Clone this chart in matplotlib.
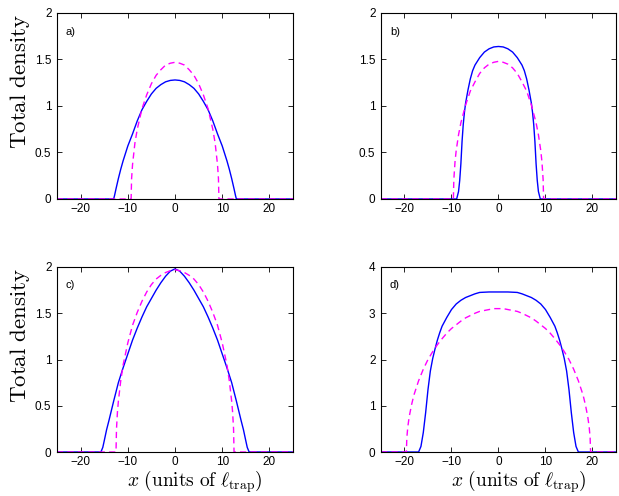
import matplotlib
matplotlib.use("Agg")
import matplotlib.pyplot as plt

# ---- panel a) ----
xa_n = [-25, -13.0, -12.8, -12.5, -12, -11.5, -11, -10, -9, -8, -7, -6, -5, -4, -3, -2, -1, 0,
        1, 2, 3, 4, 5, 6, 7, 8, 9, 10, 11, 11.5, 12, 12.5, 12.8, 13.0, 25]
na = [0, 0, 0.04, 0.11, 0.22, 0.32, 0.41, 0.57, 0.70, 0.84, 0.96, 1.05, 1.13, 1.19, 1.23, 1.26, 1.275, 1.28,
      1.275, 1.26, 1.23, 1.19, 1.13, 1.05, 0.96, 0.84, 0.70, 0.57, 0.41, 0.32, 0.22, 0.11, 0.04, 0, 0]
xa_tf = [-25, -9.3, -9.2, -9.0, -8.5, -8, -7, -6, -5, -4, -3, -2, -1, 0,
         1, 2, 3, 4, 5, 6, 7, 8, 8.5, 9.0, 9.2, 9.3, 25]
tfa = [0, 0, 0.22, 0.37, 0.60, 0.75, 0.97, 1.12, 1.24, 1.33, 1.39, 1.44, 1.46, 1.47,
       1.46, 1.44, 1.39, 1.33, 1.24, 1.12, 0.97, 0.75, 0.60, 0.37, 0.22, 0, 0]

# ---- panel b) ----
xb_n = [-25, -8.9, -8.5, -8.25, -8, -7.75, -7.5, -7.25, -7, -6.5, -6, -5.5, -5, -4, -3, -2, -1, 0,
        1, 2, 3, 4, 5, 5.5, 6, 6.5, 7, 7.25, 7.5, 7.75, 8, 8.25, 8.5, 8.9, 25]
nb = [0, 0, 0.08, 0.20, 0.38, 0.62, 0.80, 0.93, 1.03, 1.17, 1.29, 1.38, 1.44, 1.52, 1.58, 1.615, 1.635, 1.64,
      1.635, 1.615, 1.58, 1.52, 1.44, 1.38, 1.29, 1.17, 1.03, 0.93, 0.80, 0.62, 0.38, 0.20, 0.08, 0, 0]
xb_tf = [-25, -9.6, -9.5, -9.25, -9, -8.5, -8, -7, -6, -5, -4, -3, -2, -1, 0,
         1, 2, 3, 4, 5, 6, 7, 8, 8.5, 9, 9.25, 9.5, 9.6, 25]
tfb = [0, 0, 0.21, 0.40, 0.52, 0.69, 0.82, 1.01, 1.16, 1.26, 1.35, 1.41, 1.45, 1.47, 1.48,
       1.47, 1.45, 1.41, 1.35, 1.26, 1.16, 1.01, 0.82, 0.69, 0.52, 0.40, 0.21, 0, 0]

# ---- panel c) ----
xc_n = [-25, -15.7, -15.3, -15, -14.5, -14, -13, -12, -11, -10, -9, -8, -7, -6, -5, -4, -3, -2, -1, 0,
        1, 2, 3, 4, 5, 6, 7, 8, 9, 10, 11, 12, 13, 14, 14.5, 15, 15.3, 15.7, 25]
nc = [0, 0, 0.05, 0.12, 0.24, 0.34, 0.55, 0.75, 0.91, 1.06, 1.21, 1.34, 1.46, 1.57, 1.66, 1.75, 1.83, 1.90, 1.955, 1.98,
      1.955, 1.90, 1.83, 1.75, 1.66, 1.57, 1.46, 1.34, 1.21, 1.06, 0.91, 0.75, 0.55, 0.34, 0.24, 0.12, 0.05, 0, 0]
xc_tf = [-25, -12.5, -12.4, -12.2, -12, -11.5, -11, -10, -9, -8, -7, -6, -5, -4, -3, -2, -1, 0,
         1, 2, 3, 4, 5, 6, 7, 8, 9, 10, 11, 11.5, 12, 12.2, 12.4, 12.5, 25]
tfc = [0, 0, 0.25, 0.43, 0.55, 0.77, 0.94, 1.18, 1.37, 1.51, 1.63, 1.73, 1.81, 1.87, 1.91, 1.94, 1.96, 1.97,
       1.96, 1.94, 1.91, 1.87, 1.81, 1.73, 1.63, 1.51, 1.37, 1.18, 0.94, 0.77, 0.55, 0.43, 0.25, 0, 0]

# ---- panel d) ----
xd_n = [-25, -17, -16.5, -16, -15.5, -15, -14.5, -14, -13.5, -13, -12.5, -12, -11, -10, -9, -8, -7, -6,
        -5, -4, -3, -2, 0, 2, 3, 4, 5, 6, 7, 8, 9, 10, 11, 12, 12.5, 13, 13.5, 14, 14.5, 15, 15.5, 16,
        16.5, 17, 25]
nd = [0, 0, 0.12, 0.42, 0.85, 1.35, 1.75, 2.02, 2.23, 2.42, 2.58, 2.72, 2.91, 3.08, 3.20, 3.28, 3.34, 3.38,
      3.42, 3.45, 3.455, 3.46, 3.46, 3.46, 3.455, 3.45, 3.42, 3.38, 3.34, 3.28, 3.20, 3.08, 2.91, 2.72, 2.58,
      2.42, 2.23, 2.02, 1.75, 1.35, 0.85, 0.42, 0.12, 0, 0]
xd_tf = [-25, -19.6, -19.5, -19.3, -19, -18.5, -18, -17, -16, -15, -14, -13, -12, -11, -10, -9, -8, -7, -6,
         -5, -4, -3, -2, -1, 0, 1, 2, 3, 4, 5, 6, 7, 8, 9, 10, 11, 12, 13, 14, 15, 16, 17, 18, 18.5, 19,
         19.3, 19.5, 19.6, 25]
tfd = [0, 0, 0.31, 0.54, 0.76, 1.02, 1.23, 1.54, 1.79, 2.00, 2.17, 2.32, 2.45, 2.57, 2.67, 2.75, 2.83, 2.90,
       2.95, 3.00, 3.04, 3.06, 3.08, 3.10, 3.10, 3.10, 3.08, 3.06, 3.04, 3.00, 2.95, 2.90, 2.83, 2.75, 2.67,
       2.57, 2.45, 2.32, 2.17, 2.00, 1.79, 1.54, 1.23, 1.02, 0.76, 0.54, 0.31, 0, 0]

panel_labels = ["a)", "b)", "c)", "d)"]
xticks = [-20, -10, 0, 10, 20]
yticks_small = [0, 0.5, 1, 1.5, 2]
yticklabels_small = ["0", "0.5", "1", "1.5", "2"]
yticks_big = [0, 1, 2, 3, 4]

plt.rcParams["font.family"] = "Liberation Sans"
plt.rcParams["mathtext.fontset"] = "cm"
plt.rcParams["axes.unicode_minus"] = True

fig = plt.figure(figsize=(6.19, 4.96), dpi=100)

# axes rectangles in figure fractions (left, bottom, width, height)
rects = [
    (0.0921, 0.5988, 0.3813, 0.375),
    (0.6155, 0.5988, 0.3796, 0.375),
    (0.0921, 0.0887, 0.3813, 0.373),
    (0.6155, 0.0887, 0.3796, 0.373),
]
data = [
    (xa_n, na, xa_tf, tfa),
    (xb_n, nb, xb_tf, tfb),
    (xc_n, nc, xc_tf, tfc),
    (xd_n, nd, xd_tf, tfd),
]

for i, (rect, (xn, n, xtf, tf)) in enumerate(zip(rects, data)):
    ax = fig.add_axes(rect)
    ax.plot(xn, n, color="#0000ff", lw=1.0)
    ax.plot(xtf, tf, color="#ff00ff", lw=1.0, dashes=(4.5, 3.0))
    ax.set_xlim(-25, 25)
    ax.set_xticks(xticks)
    if i == 3:
        ax.set_ylim(0, 4)
        ax.set_yticks(yticks_big)
    else:
        ax.set_ylim(0, 2)
        ax.set_yticks(yticks_small)
        ax.set_yticklabels(yticklabels_small)
    ax.tick_params(direction="in", top=True, right=True, length=3.5, width=0.6,
                   labelsize=8.5, pad=4)
    ax.tick_params(axis="x", pad=3)
    for s in ax.spines.values():
        s.set_linewidth(0.8)
    ax.text(0.038, 0.90, panel_labels[i], transform=ax.transAxes,
            ha="left", va="center", fontsize=8)
    if i in (0, 2):
        ax.set_ylabel(r"$\mathrm{Total\ density}$", fontsize=16.5)
        ax.yaxis.set_label_coords(-0.105, 0.63)
    if i in (2, 3):
        ax.set_xlabel(r"$x\ \mathrm{(units\ of\ }\ell_{\mathrm{trap}}\mathrm{)}$", fontsize=14,
                      va="bottom")
        ax.xaxis.set_label_coords(0.585, -0.232)

fig.savefig("out.png", dpi=100)
